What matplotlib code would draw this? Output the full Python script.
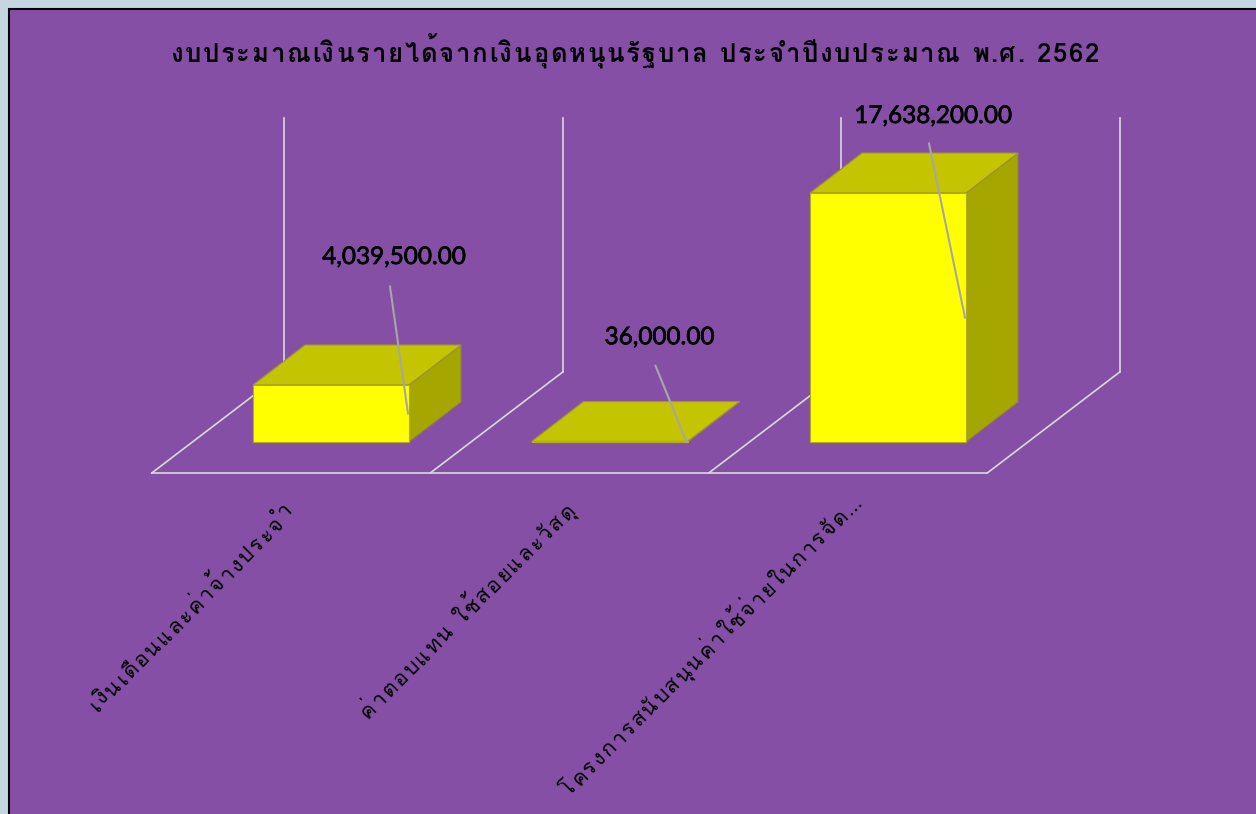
import numpy as np
import matplotlib
matplotlib.use("Agg")
import matplotlib.pyplot as plt
import matplotlib.patheffects as pe
from matplotlib import font_manager as fm
from matplotlib.font_manager import FontProperties
from matplotlib.ft2font import LoadFlags
from matplotlib.patches import Polygon, Rectangle

title = "งบประมาณเงินรายได้จากเงินอุดหนุนรัฐบาล ประจำปีงบประมาณ พ.ศ. 2562"
categories = ["เงินเดือนและค่าจ้างประจำ", "ค่าตอบแทน ใช้สอยและวัสดุ", "โครงการสนับสนุนค่าใช้จ่ายในการจัด…"]
values = [4039500.00, 36000.00, 17638200.00]
axis_top = 18000000
label_offsets = [(-14, 156), (-27, 104), (-32, 201)]   # px from bar anchor to label centre
leader_offsets = [(-18, 127), (-31, 76), (-36, 174)]   # px from anchor to leader start
tick_ends = [(-35, -72), (-32, -68), (-24, -60)]       # px from (i, 0) to end of tick label

PURPLE = "#864FA6"
OUTER = "#C5D6E0"
YELLOW = "#FFFF00"
TOP = "#C4C400"
SIDE = "#A6A600"
GRID = "#D9D9D9"
LEADER = "#A6A6A6"

W, H = 1256, 814
CAT_W = 278.5          # px per category
PX_VAL = 17638200 / 249  # value per px
BAR_W = 156 / CAT_W

fig = plt.figure(figsize=(W / 100, H / 100), dpi=100, facecolor=OUTER)
fig.patches.append(Rectangle((9 / W, -0.1), 1.2, 0.1 + (H - 9) / H, transform=fig.transFigure,
                             fc=PURPLE, ec="black", lw=1.5, zorder=-1))
ax = fig.add_axes([0, 0, 1, 1])
ax.patch.set_alpha(0)
ax.set_axis_off()
# i=0 sits at pixel x 331, value 0 at pixel y 442
ax.set_xlim(-331 / CAT_W, (W - 331) / CAT_W)
ax.set_ylim(-(H - 442) * PX_VAL, 442 * PX_VAL)


def dx(px):
    return px / CAT_W


def dy(px):
    return px * PX_VAL


# floor and back wall lines
for e in np.arange(len(values) + 1) - 0.5:
    x0 = e - dx(40)
    ax.plot([x0, x0 + dx(132.5)], [dy(-31), dy(70)], color=GRID, lw=1.2, zorder=1)
    ax.plot([x0 + dx(132.5)] * 2, [dy(70), dy(70) + axis_top], color=GRID, lw=1.2, zorder=1)
ax.plot([-0.5 - dx(40), 2.5 - dx(40)], [dy(-31), dy(-31)], color=GRID, lw=1.2, zorder=1)

# 3d bars
DEPTH_X, DEPTH_Y = dx(52), dy(40)
for i, v in enumerate(values):
    l, r = i - BAR_W / 2, i + BAR_W / 2
    ax.add_patch(Polygon([(r, 0), (r + DEPTH_X, DEPTH_Y), (r + DEPTH_X, v + DEPTH_Y), (r, v)],
                         fc=SIDE, ec="#8F8040", lw=0.8, zorder=2))
    ax.add_patch(Polygon([(l, v), (r, v), (r + DEPTH_X, v + DEPTH_Y), (l + DEPTH_X, v + DEPTH_Y)],
                         fc=TOP, ec="#A09040", lw=0.8, zorder=3))
    ax.add_patch(Rectangle((l, 0), BAR_W, v, fc=YELLOW, ec="#B4AC20", lw=0.8, zorder=4))

# value labels with leader lines
for i, v in enumerate(values):
    anchor = (i + BAR_W / 2 - dx(1), v / 2)
    ox, oy = leader_offsets[i]
    ax.plot([anchor[0], anchor[0] + dx(ox)], [anchor[1], anchor[1] + dy(oy)], color=LEADER, lw=1.5, zorder=5)
    lx, ly = label_offsets[i]
    ax.annotate(f"{v:,.2f}", xy=anchor, xycoords="data", xytext=(lx, ly),
                textcoords="offset pixels", ha="center", va="center",
                family="Lato", fontsize=17.5, color="black", zorder=6,
                path_effects=[pe.withStroke(linewidth=0.5, foreground="black")])


MARKS = set(range(0x0E34, 0x0E3B)) | set(range(0x0E47, 0x0E4F)) | {0x0E31}


def tracked(text, xy, xycoords, size, track, rotation=0, end=False, **kw):
    # matplotlib has no letter spacing: place each base + marks cluster by hand
    prop = FontProperties(family=kw.get("family", "Loma"), weight=kw.get("weight", "normal"), size=size)
    font = fm.get_font(fm.findfont(prop))
    font.set_size(size, 100)
    clusters, adv = [], []
    for c in text:
        w = font.load_char(ord(c), flags=LoadFlags.NO_HINTING).linearHoriAdvance / 65536
        if ord(c) in MARKS and clusters:
            clusters[-1] += c
        else:
            clusters.append(c)
            adv.append(w + track)
    total = sum(adv)
    a = np.radians(rotation)
    pos = -total if end else 0.0
    for c, w in zip(clusters, adv):
        ax.annotate(c, xy=xy, xycoords=xycoords, xytext=(pos * np.cos(a), pos * np.sin(a)),
                    textcoords="offset pixels", ha="left", va="baseline", rotation=rotation,
                    rotation_mode="anchor", fontproperties=prop, color="black", zorder=6)
        pos += w


for i, c in enumerate(categories):
    ox, oy = tick_ends[i]
    a = ax.transData.transform((i, 0))
    tracked(c, (a[0] + ox, a[1] + oy), "figure pixels", 15.5, 1.9, rotation=45, end=True)

tracked(title, (170, H - 62), "figure pixels", 18.5, 1.73, weight="bold")

fig.savefig("out.png", dpi=100, facecolor=fig.get_facecolor())
